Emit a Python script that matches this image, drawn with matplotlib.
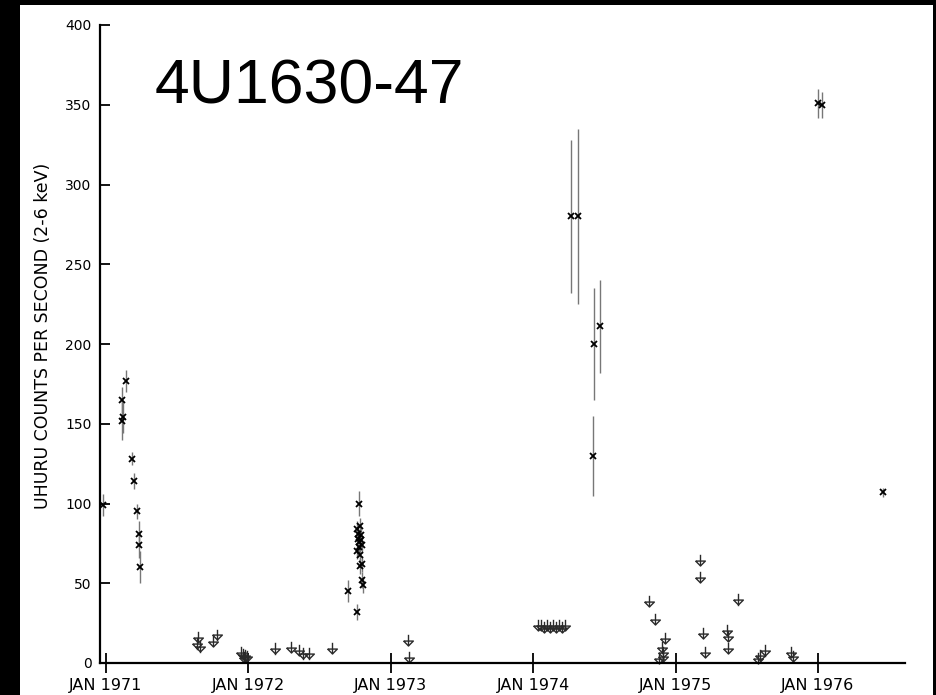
import matplotlib
matplotlib.use('Agg')
import matplotlib.pyplot as plt
from matplotlib.patches import Rectangle

# Detections: time (decimal year), counts/s, 1-sigma error
det_year = [1970.979, 1971.114, 1971.117, 1971.112, 1971.140, 1971.185, 1971.199,
            1971.220, 1971.232, 1971.234, 1971.239,
            1972.697, 1972.765, 1972.774,
            1972.760, 1972.767, 1972.771, 1972.778, 1972.774, 1972.785, 1972.788,
            1972.792, 1972.764, 1972.781, 1972.795, 1972.799, 1972.795, 1972.802,
            1972.785,
            1974.263, 1974.317, 1974.429, 1974.469, 1974.418,
            1976.000, 1976.028, 1976.456]
det_rate = [99, 165, 154, 152, 177, 128, 114, 95, 81, 74, 60,
            45, 32, 100,
            84, 81, 78, 76, 73, 86, 80, 77, 70, 68, 74, 62, 52, 49, 61,
            280, 280, 200, 211, 130,
            351, 350, 107]
det_err = [7, 8, 10, 12, 7, 4, 5, 5, 8, 8, 10,
           7, 5, 8,
           5, 5, 5, 5, 5, 5, 5, 5, 5, 5, 5, 5, 5, 5, 5,
           48, 55, 35, 29, 25,
           9, 8, 3]

# Upper limits: time (decimal year), counts/s
lim_year = [1971.644, 1971.637, 1971.660, 1971.781, 1971.753,
            1971.948, 1971.962, 1971.976, 1971.990, 1971.969,
            1972.187, 1972.300, 1972.353, 1972.381, 1972.426, 1972.587,
            1973.122, 1973.128,
            1974.034, 1974.055, 1974.076, 1974.097, 1974.119, 1974.140,
            1974.161, 1974.183, 1974.204, 1974.225,
            1974.813, 1974.855, 1974.926, 1974.904, 1974.912, 1974.912,
            1974.883,
            1975.171, 1975.171, 1975.192, 1975.206,
            1975.362, 1975.369, 1975.369, 1975.439,
            1975.579, 1975.593, 1975.629,
            1975.811, 1975.825]
lim_rate = [19.5, 15.5, 13.5, 21, 17,
            10, 9, 8, 7.5, 7,
            12.3, 13.4, 11.3, 9.2, 9.2, 12.7,
            17.6, 7,
            27, 27, 26, 27, 26, 27, 26, 27, 26, 27,
            42, 31, 19, 13, 10, 7.5, 6.5,
            68, 57, 22, 10,
            24, 20, 12.5, 43,
            6.5, 8, 11,
            10, 7.5]

years = [1971, 1972, 1973, 1974, 1975, 1976]
year_labels = ['JAN 1971', 'JAN 1972', 'JAN 1973', 'JAN 1974', 'JAN 1975', 'JAN 1976']
yticks = [0, 50, 100, 150, 200, 250, 300, 350, 400]

W, H = 936, 695
fig = plt.figure(figsize=(W / 100, H / 100), dpi=100, facecolor='black')
# white scanned page inside a black frame
fig.add_artist(Rectangle((20 / W, 0), 913 / W, 690 / H, transform=fig.transFigure,
                         facecolor='white', edgecolor='none', zorder=0))

ax = fig.add_axes([100 / W, 32 / H, 805 / W, 638 / H])
ax.set_facecolor('white')
ax.set_xlim(1970.958, 1976.611)
ax.set_ylim(0, 400)

# detections with error bars
ax.errorbar(det_year, det_rate, yerr=det_err, fmt='none', ecolor='#777777',
            elinewidth=1.0, capsize=0, zorder=2)
ax.plot(det_year, det_rate, 'x', color='black', markersize=4, mew=1.3,
        linestyle='none', zorder=3)

# upper limits: stem plus open flat triangle
stem = 6.5
tri = [(-1, 0.5), (1, 0.5), (0, -0.5), (-1, 0.5)]
for x, v in zip(lim_year, lim_rate):
    ax.plot([x, x], [v, v - stem], color='#2a2a2a', lw=1.0, clip_on=False, zorder=2)
ax.plot(lim_year, [v - 5.0 for v in lim_rate], linestyle='none', marker=tri,
        markersize=7, mfc='none', mec='#2a2a2a', mew=1.0, clip_on=False, zorder=2)

ax.spines['top'].set_visible(False)
ax.spines['right'].set_visible(False)
ax.spines['left'].set_linewidth(1.6)
ax.spines['bottom'].set_linewidth(1.6)

ax.set_yticks(yticks)
ax.set_yticklabels([str(t) for t in yticks])
ax.tick_params(axis='y', direction='in', length=7, width=1.3, pad=6,
               labelsize=10, colors='black')
ax.set_xticks(years)
ax.set_xticklabels(year_labels)
ax.tick_params(axis='x', direction='inout', length=14, width=1.3, pad=4,
               labelsize=11.5, colors='black')

fig.text(43 / W, 1 - 336 / H, 'UHURU COUNTS PER SECOND (2-6 keV)', rotation=90,
         ha='center', va='center', fontsize=12.5)
fig.text(155 / W, 1 - 103 / H, '4U1630-47', ha='left', va='baseline',
         fontsize=45, family='Liberation Sans')

fig.savefig('out.png', dpi=100, facecolor=fig.get_facecolor())
